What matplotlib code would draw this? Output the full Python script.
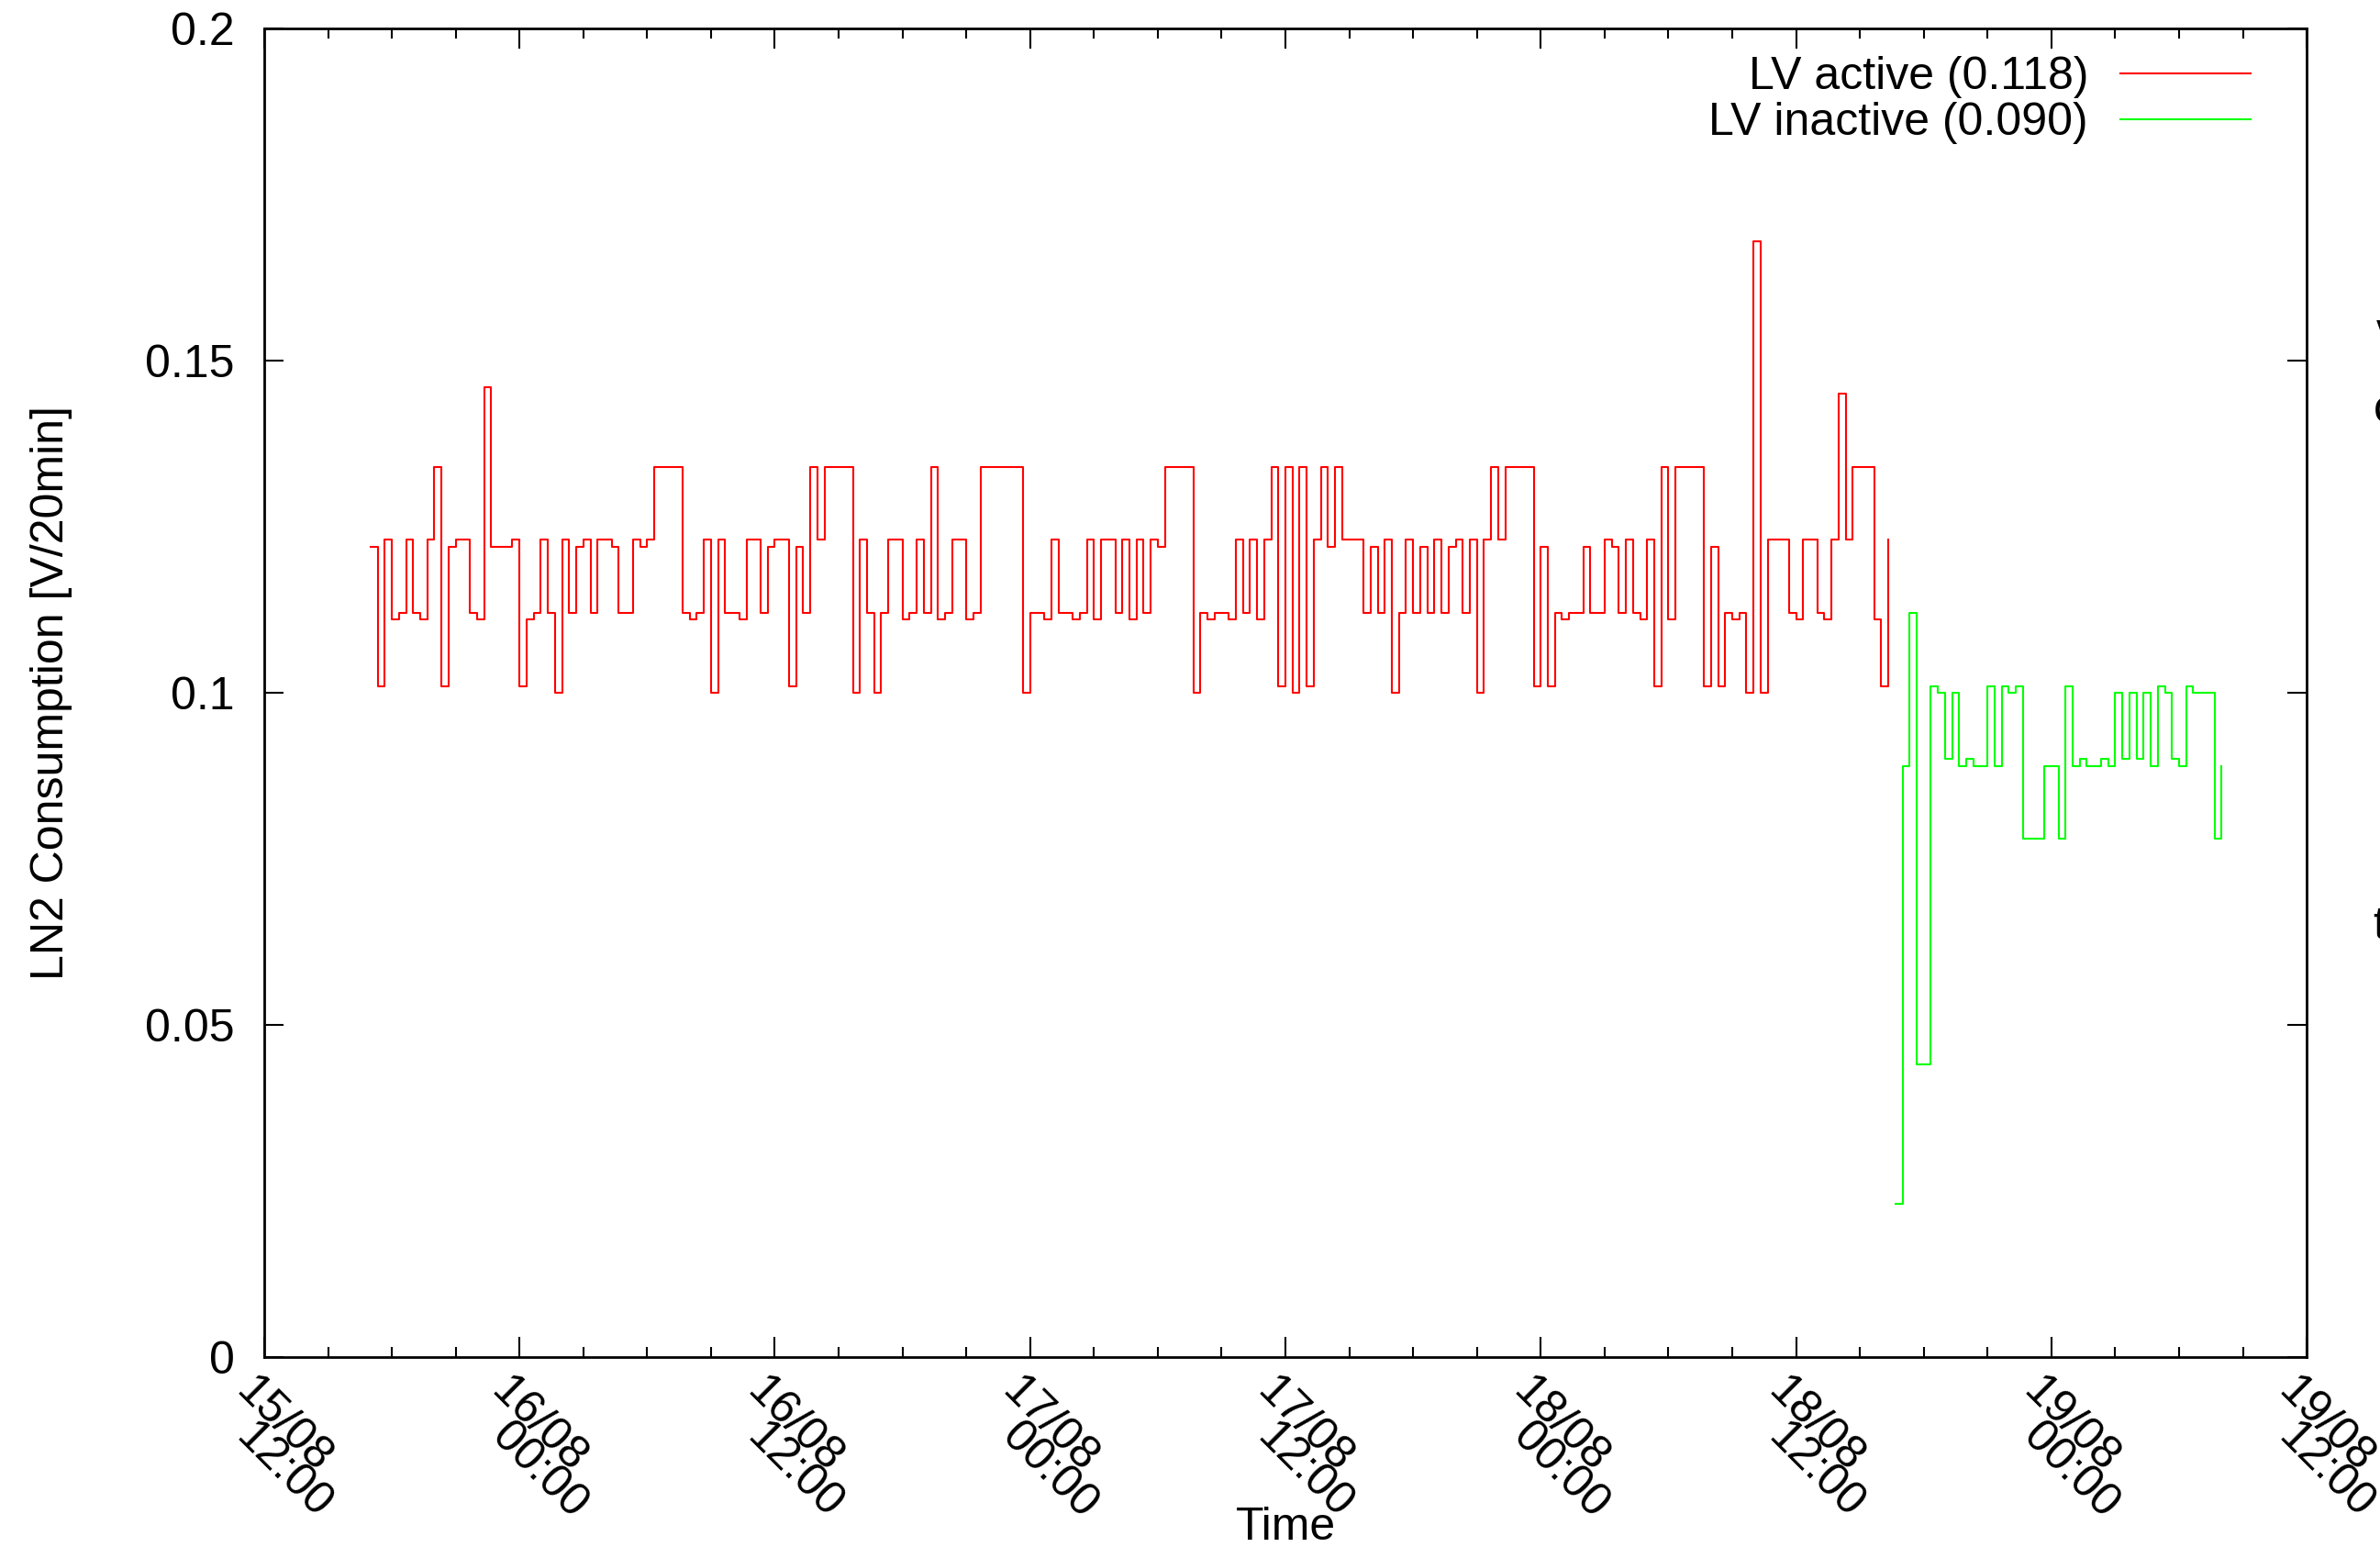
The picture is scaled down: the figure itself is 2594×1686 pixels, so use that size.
import numpy as np
import matplotlib.pyplot as plt
from matplotlib.ticker import MultipleLocator, NullFormatter
from matplotlib.transforms import ScaledTranslation

plt.rcParams['font.family'] = ['Liberation Sans', 'DejaVu Sans']
plt.rcParams['font.size'] = 36

# time axis in hours after 15/08 12:00, one sample every 20 min
step_h = 1.0 / 3.0
active_start = 5.0            # 15/08 17:00
inactive_start = 76 + 2.0 / 3  # 18/08 16:40

lv_active = [
    0.122, 0.101, 0.123, 0.111, 0.112, 0.123, 0.112, 0.111, 0.123, 0.134,
    0.101, 0.122, 0.123, 0.123, 0.112, 0.111, 0.146, 0.122, 0.122, 0.122,
    0.123, 0.101, 0.111, 0.112, 0.123, 0.112, 0.100, 0.123, 0.112, 0.122,
    0.123, 0.112, 0.123, 0.123, 0.122, 0.112, 0.112, 0.123, 0.122, 0.123,
    0.134, 0.134, 0.134, 0.134, 0.112, 0.111, 0.112, 0.123, 0.100, 0.123,
    0.112, 0.112, 0.111, 0.123, 0.123, 0.112, 0.122, 0.123, 0.123, 0.101,
    0.122, 0.112, 0.134, 0.123, 0.134, 0.134, 0.134, 0.134, 0.100, 0.123,
    0.112, 0.100, 0.112, 0.123, 0.123, 0.111, 0.112, 0.123, 0.112, 0.134,
    0.111, 0.112, 0.123, 0.123, 0.111, 0.112, 0.134, 0.134, 0.134, 0.134,
    0.134, 0.134, 0.100, 0.112, 0.112, 0.111, 0.123, 0.112, 0.112, 0.111,
    0.112, 0.123, 0.111, 0.123, 0.123, 0.112, 0.123, 0.111, 0.123, 0.112,
    0.123, 0.122, 0.134, 0.134, 0.134, 0.134, 0.100, 0.112, 0.111, 0.112,
    0.112, 0.111, 0.123, 0.112, 0.123, 0.111, 0.123, 0.134, 0.101, 0.134,
    0.100, 0.134, 0.101, 0.123, 0.134, 0.122, 0.134, 0.123, 0.123, 0.123,
    0.112, 0.122, 0.112, 0.123, 0.100, 0.112, 0.123, 0.112, 0.122, 0.112,
    0.123, 0.112, 0.122, 0.123, 0.112, 0.123, 0.100, 0.123, 0.134, 0.123,
    0.134, 0.134, 0.134, 0.134, 0.101, 0.122, 0.101, 0.112, 0.111, 0.112,
    0.112, 0.122, 0.112, 0.112, 0.123, 0.122, 0.112, 0.123, 0.112, 0.111,
    0.123, 0.101, 0.134, 0.111, 0.134, 0.134, 0.134, 0.134, 0.101, 0.122,
    0.101, 0.112, 0.111, 0.112, 0.100, 0.168, 0.100, 0.123, 0.123, 0.123,
    0.112, 0.111, 0.123, 0.123, 0.112, 0.111, 0.123, 0.145, 0.123, 0.134,
    0.134, 0.134, 0.111, 0.101, 0.123,
]

lv_inactive = [
    0.023, 0.089, 0.112, 0.044, 0.044, 0.101, 0.100, 0.090, 0.100, 0.089,
    0.090, 0.089, 0.089, 0.101, 0.089, 0.101, 0.100, 0.101, 0.078, 0.078,
    0.078, 0.089, 0.089, 0.078, 0.101, 0.089, 0.090, 0.089, 0.089, 0.090,
    0.089, 0.100, 0.090, 0.100, 0.090, 0.100, 0.089, 0.101, 0.100, 0.090,
    0.089, 0.101, 0.100, 0.100, 0.100, 0.078, 0.089,
]

xtick_hours = [0, 12, 24, 36, 48, 60, 72, 84, 96]
xtick_dates = ['15/08', '16/08', '16/08', '17/08', '17/08',
               '18/08', '18/08', '19/08', '19/08']
xtick_times = ['12:00', '00:00', '12:00', '00:00', '12:00',
               '00:00', '12:00', '00:00', '12:00']
ytick_values = [0, 0.05, 0.1, 0.15, 0.2]
ytick_labels = ['0', '0.05', '0.1', '0.15', '0.2']

t_active = active_start + step_h * np.arange(len(lv_active))
t_inactive = inactive_start + step_h * np.arange(len(lv_inactive))

DPI = 100
fig = plt.figure(figsize=(25.94, 16.86), dpi=DPI)
ax = fig.add_axes([0.1110, 0.1228, 0.8582, 0.8588])

ax.plot(t_active, lv_active, drawstyle='steps-post', color='#ff0000',
        lw=1.5, label='LV active (0.118)')
ax.plot(t_inactive, lv_inactive, drawstyle='steps-post', color='#00ff00',
        lw=1.5, label='LV inactive (0.090)')

ax.set_xlim(0, 96)
ax.set_ylim(0, 0.2)

for s in ax.spines.values():
    s.set_linewidth(2.0)

ax.set_xticks(xtick_hours)
ax.xaxis.set_major_formatter(NullFormatter())
ax.xaxis.set_minor_locator(MultipleLocator(3))
ax.set_yticks(ytick_values)
ax.set_yticklabels(ytick_labels)

ax.tick_params(which='both', direction='in', top=True, right=True, width=1.5)
ax.tick_params(axis='x', which='major', length=15.8)
ax.tick_params(axis='x', which='minor', length=7.9)
ax.tick_params(axis='y', which='major', length=15, pad=23)

# rotated two-line date labels, second line dropped straight down
xtrans = ax.get_xaxis_transform()
for h, d, t in zip(xtick_hours, xtick_dates, xtick_times):
    for line, dy in ((d, 14), (t, 64)):
        off = ScaledTranslation(-7 / DPI, -dy / DPI, fig.dpi_scale_trans)
        ax.text(h, 0, line, transform=xtrans + off, rotation=-45,
                ha='left', va='top', rotation_mode='anchor', clip_on=False)

ax.set_xlabel('Time', va='baseline')
ax.xaxis.set_label_coords(0.5, -0.1374)
ax.set_ylabel('LN2 Consumption [V/20min]', va='center')
ax.yaxis.set_label_coords(-0.104, 0.5)

ax.legend(loc='upper right', bbox_to_anchor=(0.9726, 0.979), frameon=False,
          markerfirst=False, handlelength=2.84, handletextpad=0.7,
          borderpad=0, borderaxespad=0, labelspacing=0.08)

# fragments of neighbouring text at the right edge
fig.text(2590 / 2594, 1 - 376 / 1686, 'v', va='baseline', ha='left')
fig.text(2587 / 2594, 1 - 460 / 1686, 'c', va='baseline', ha='left')
fig.text(2586 / 2594, 1 - 1023 / 1686, 't', va='baseline', ha='left')

fig.savefig('out.png', dpi=DPI)
